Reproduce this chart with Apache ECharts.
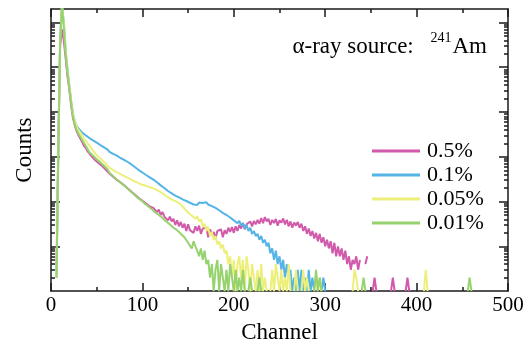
<!DOCTYPE html>
<html>
<head>
<meta charset="utf-8">
<script src="https://cdn.jsdelivr.net/npm/echarts@6/dist/echarts.min.js"></script>
<style>
html, body { margin: 0; padding: 0; background: #fff; }
#main { width: 529px; height: 349px; }
</style>
</head>
<body>
<div id="main"></div>
<script>
// counts, one value every 2 channels starting at channel 0 (0 = no counts)
const step = 2;

const pink = [
	0, 0, 0, 3, 2000, 300000, 700000, 400000, 160000, 63000,
	32000, 14000, 7400, 5100, 3750, 3050, 2550, 2180, 1760, 1580,
	1330, 1190, 1050, 975, 850, 810, 730, 690, 620, 590,
	515, 490, 425, 415, 360, 355, 305, 300, 268, 262,
	232, 226, 196, 192, 166, 163, 141, 143, 120, 121,
	104, 112, 90, 98, 78, 86, 72, 70, 58, 66,
	50, 58, 46, 48, 38, 46, 36, 41, 30, 38,
	28, 35, 26, 32, 22, 31, 23, 25, 20, 28,
	22, 29, 19, 25, 23, 26, 16, 24, 18, 21,
	15, 22, 20, 24, 16, 23, 19, 26, 21, 27,
	20, 28, 22, 30, 25, 33, 24, 31, 28, 36,
	28, 37, 31, 39, 32, 43, 33, 45, 36, 41,
	30, 39, 33, 41, 29, 38, 34, 42, 31, 39,
	28, 36, 26, 34, 29, 35, 26, 32, 22, 28,
	19, 25, 17, 22, 15, 20, 13, 19, 12, 16,
	10, 14, 9, 13, 7, 12, 6, 10, 6, 9,
	5, 8, 4, 6, 3, 5, 4, 6, 3, 5,
	0, 0, 4, 6, 0, 0, 1, 2, 1, 0,
	0, 0, 0, 0, 0, 0, 1, 2, 1, 0,
	0, 0, 0, 0, 1, 2, 1
];

const blue = [
	0, 0, 0, 2, 1500, 500000, 2500000, 1000000, 250000, 90000,
	40000, 17800, 9000, 6300, 4900, 4300, 3900, 3500, 3250, 3000,
	2750, 2620, 2420, 2330, 2120, 2080, 1880, 1830, 1680, 1630,
	1480, 1450, 1290, 1260, 1160, 1140, 1060, 1020, 940, 935,
	855, 835, 765, 755, 675, 655, 585, 575, 505, 500,
	445, 440, 392, 390, 348, 350, 308, 310, 270, 268,
	230, 233, 201, 204, 172, 174, 153, 157, 136, 141,
	124, 118, 112, 108, 103, 96, 94, 88, 86, 92,
	84, 95, 87, 93, 88, 96, 86, 91, 79, 84,
	72, 76, 64, 68, 56, 60, 50, 54, 44, 48,
	38, 42, 33, 37, 29, 33, 25, 30, 22, 26,
	19, 22, 17, 19, 14, 17, 12, 14, 10, 12,
	7, 9, 5, 8, 4, 6, 3, 5, 2, 4,
	2, 3, 1, 2, 1, 3, 1, 3, 1, 2,
	1, 3, 1, 2, 1, 0, 0, 0, 1, 2,
	1
];

const yellow = [
	0, 0, 0, 2, 1200, 400000, 2500000, 1000000, 250000, 90000,
	40000, 17800, 9000, 6300, 4850, 3950, 3520, 2930, 2600, 2260,
	2020, 1770, 1620, 1380, 1250, 1080, 1010, 915, 860, 765,
	705, 625, 590, 535, 530, 475, 475, 430, 435, 390,
	398, 355, 360, 322, 330, 292, 298, 268, 272, 244,
	252, 232, 240, 216, 226, 204, 214, 190, 198, 172,
	178, 152, 158, 133, 140, 118, 125, 106, 114, 98,
	106, 86, 90, 70, 74, 57, 62, 49, 53, 41,
	47, 36, 40, 28, 32, 22, 27, 17, 21, 14,
	17, 11, 13, 9, 11, 7, 8, 4, 6, 2,
	5, 1, 4, 6, 2, 5, 1, 6, 3, 1,
	4, 2, 1, 3, 1, 4, 1, 2, 1, 0,
	1, 3, 1, 4, 2, 1, 3, 1, 2, 1,
	4, 1, 0, 1, 3, 1, 0, 1, 3, 1,
	2, 1, 0, 0, 1, 2, 1, 2, 1, 0,
	0, 0, 0, 0, 0, 0, 0, 0, 0, 0,
	0, 0, 0, 0, 0, 1, 3, 2, 1, 0,
	0, 0, 0, 0, 0, 0, 0, 0, 0, 0,
	0, 0, 0, 0, 0, 0, 0, 0, 0, 0,
	0, 0, 0, 0, 0, 0, 0, 0, 0, 0,
	0, 0, 0, 0, 1, 3, 1
];

const green = [
	0, 0, 0, 2, 1000, 350000, 2500000, 800000, 200000, 80000,
	35000, 16000, 8000, 5300, 4000, 3300, 2800, 2400, 2050, 1850,
	1500, 1260, 1150, 1050, 950, 880, 810, 750, 690, 630,
	570, 520, 440, 420, 370, 352, 312, 298, 265, 258,
	228, 222, 194, 188, 164, 158, 138, 136, 116, 114,
	102, 92, 90, 80, 79, 68, 67, 58, 59, 50,
	50, 43, 44, 36, 37, 31, 32, 26, 28, 23,
	24, 19, 19, 16, 15, 12, 12, 9, 13, 10,
	8, 6, 9, 5, 8, 4, 5, 2, 4, 1,
	3, 5, 1, 4, 2, 1, 3, 1, 4, 2,
	1, 3, 1, 2, 1, 3, 1, 0, 1, 2,
	1, 0, 0, 1, 2, 1, 0, 0, 0, 0,
	0, 0, 0, 0, 0, 0, 0, 0, 0, 0,
	0, 0, 0, 0, 0, 0, 0, 0, 0, 0,
	0, 0, 0, 0, 1, 3, 1, 2, 1, 0,
	0, 0, 0, 0, 0, 0, 0, 0, 0, 0,
	0, 0, 0, 0, 0, 0, 0, 0, 0, 0,
	1, 2, 1, 0, 0, 0, 0, 0, 0, 0,
	0, 0, 0, 0, 0, 0, 0, 0, 0, 0,
	0, 0, 0, 0, 0, 0, 0, 0, 0, 0,
	0, 0, 0, 0, 0, 0, 0, 0, 0, 0,
	0, 0, 0, 0, 0, 0, 0, 0, 0, 0,
	0, 0, 0, 0, 0, 0, 0, 0, 1, 2,
	1
];

const names = ['0.5%', '0.1%', '0.05%', '0.01%'];
const colors = ['#d25aaa', '#55b4e6', '#ecf07a', '#96d26e'];

// y range in counts, decade ticks and 2..9 sub-ticks
const yMin = 1;
const yMax = 2e6;
const decadeTicks = [10, 100, 1000, 10000, 100000, 1000000];
const subMultipliers = [2, 3, 4, 5, 6, 7, 8, 9];

const font = 'Liberation Serif';
const ink = '#1a1a1a';

const subTicks = [];
[1, 10, 100, 1000, 10000, 100000].forEach(d => {
	subMultipliers.forEach(m => subTicks.push(d * m));
});

function toPoints(arr) {
	return arr.map((v, i) => [i * step, v > 0 ? v : null]);
}

// helper axes only carry the log tick marks
function tickAxis(position, values, length, showLine) {
	return {
		type: 'value',
		position: position,
		min: Math.log10(yMin),
		max: Math.log10(yMax),
		axisLine: {show: showLine, onZero: false, lineStyle: {color: ink, width: 1.5}},
		axisTick: {
			show: true,
			inside: true,
			length: length,
			customValues: values.map(v => Math.log10(v)),
			lineStyle: {color: ink, width: 1.5}
		},
		axisLabel: {show: false},
		splitLine: {show: false}
	};
}

function xAxis(position, showLabel) {
	return {
		type: 'value',
		position: position,
		min: 0,
		max: 500,
		interval: 100,
		axisLine: {onZero: false, lineStyle: {color: ink, width: 1.5}},
		axisTick: {inside: true, length: 8, lineStyle: {color: ink, width: 1.5}},
		minorTick: {show: true, splitNumber: 2, length: 4, lineStyle: {color: ink, width: 1.5}},
		axisLabel: {show: showLabel, color: '#000', fontFamily: font, fontSize: 21, margin: 4},
		splitLine: {show: false},
		minorSplitLine: {show: false}
	};
}

const chart = echarts.init(document.getElementById('main'), null, {renderer: 'canvas'});

const bottomAxis = xAxis('bottom', true);
bottomAxis.name = 'Channel';
bottomAxis.nameLocation = 'middle';
bottomAxis.nameGap = 28;
bottomAxis.nameTextStyle = {color: '#000', fontFamily: font, fontSize: 23};

chart.setOption({
	animation: false,
	backgroundColor: '#fff',
	title: {
		text: '{a|α-ray source: }{s|241}{a|Am}',
		right: 42,
		top: 31,
		padding: 0,
		textStyle: {
			fontWeight: 'normal',
			rich: {
				a: {fontFamily: font, fontSize: 23, fontWeight: 'normal', color: '#000', lineHeight: 32},
				s: {fontFamily: font, fontSize: 14, fontWeight: 'normal', color: '#000', lineHeight: 14, verticalAlign: 'top', padding: [0, 1, 0, 11]}
			}
		}
	},
	legend: {
		data: names,
		orient: 'vertical',
		left: 372,
		top: 139,
		padding: 0,
		icon: 'rect',
		itemWidth: 48,
		itemHeight: 3,
		itemGap: 0,
		selectedMode: false,
		textStyle: {fontFamily: font, fontSize: 22, color: '#000', lineHeight: 24, padding: [0, 0, 0, 2]}
	},
	grid: {left: 51, right: 21, top: 9, bottom: 57, containLabel: false},
	xAxis: [bottomAxis, xAxis('top', false)],
	yAxis: [
		{
			type: 'log',
			logBase: 10,
			min: yMin,
			max: yMax,
			position: 'left',
			axisLine: {show: true, onZero: false, lineStyle: {color: ink, width: 1.5}},
			axisTick: {show: false},
			minorTick: {show: false},
			axisLabel: {show: false},
			splitLine: {show: false},
			name: 'Counts',
			nameLocation: 'middle',
			nameGap: 15,
			nameTextStyle: {color: '#000', fontFamily: font, fontSize: 23}
		},
		tickAxis('left', decadeTicks, 9, false),
		tickAxis('left', subTicks, 4, false),
		tickAxis('right', decadeTicks, 9, true),
		tickAxis('right', subTicks, 4, false)
	],
	series: [pink, blue, yellow, green].map((arr, i) => ({
		name: names[i],
		type: 'line',
		xAxisIndex: 0,
		yAxisIndex: 0,
		data: toPoints(arr),
		showSymbol: false,
		symbol: 'none',
		clip: true,
		lineStyle: {width: 2, color: colors[i]},
		itemStyle: {color: colors[i]},
		emphasis: {disabled: true}
	}))
});
</script>
</body>
</html>
